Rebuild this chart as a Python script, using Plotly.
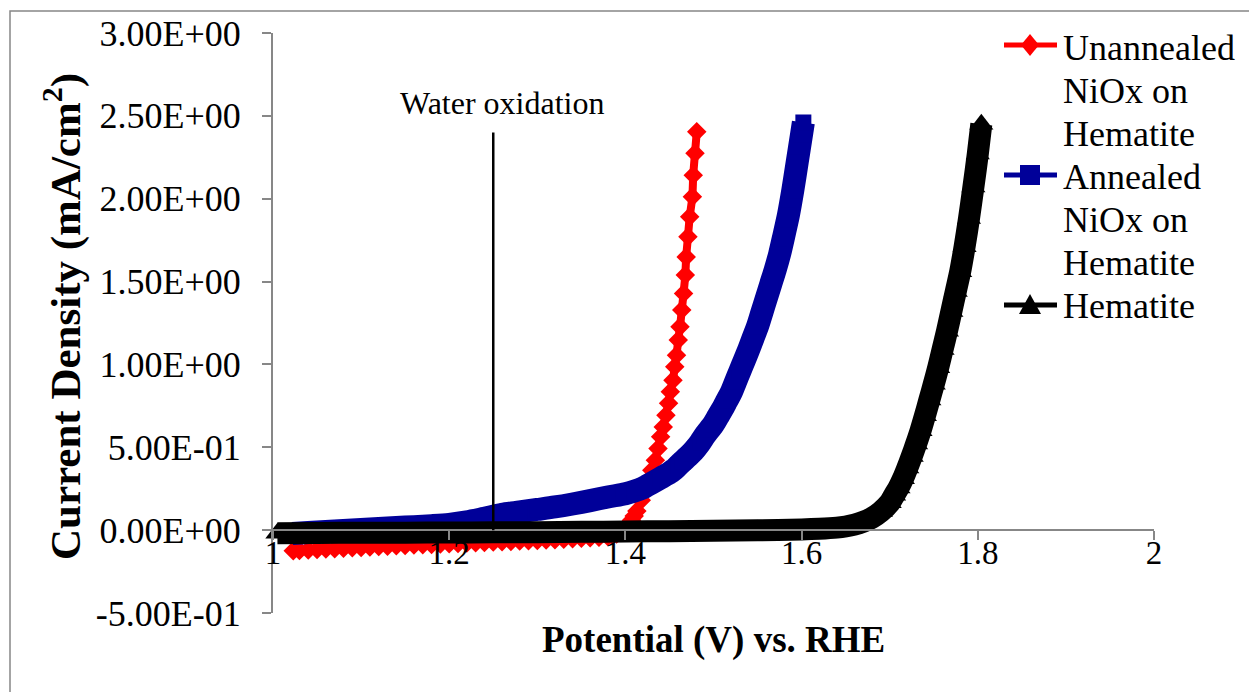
import plotly.graph_objects as go

# Linear sweep voltammetry: current density vs. potential
v_unannealed = [1.023, 1.03, 1.04, 1.05, 1.06, 1.07, 1.08, 1.09, 1.10, 1.11, 1.12, 1.13, 1.14,
                1.15, 1.16, 1.17, 1.18, 1.19, 1.20, 1.21, 1.22, 1.23, 1.24, 1.25, 1.26, 1.27,
                1.28, 1.29, 1.30, 1.31, 1.32, 1.33, 1.34, 1.35, 1.36, 1.37, 1.38, 1.385, 1.39,
                1.395, 1.399, 1.403, 1.407, 1.410, 1.413, 1.418, 1.422, 1.426, 1.430, 1.434,
                1.437, 1.440, 1.443, 1.446, 1.449, 1.451, 1.454, 1.456, 1.458, 1.460, 1.462,
                1.464, 1.466, 1.468, 1.469, 1.471, 1.473, 1.476, 1.477, 1.479, 1.481]
j_unannealed = [-0.125, -0.123, -0.120, -0.117, -0.114, -0.112, -0.109, -0.106, -0.104, -0.101,
                -0.099, -0.097, -0.094, -0.092, -0.090, -0.088, -0.086, -0.084, -0.082, -0.080,
                -0.078, -0.076, -0.074, -0.072, -0.070, -0.068, -0.066, -0.064, -0.062, -0.060,
                -0.058, -0.055, -0.052, -0.049, -0.046, -0.043, -0.039, -0.033, -0.024, -0.010,
                0.010, 0.035, 0.060, 0.085, 0.115, 0.181, 0.241, 0.302, 0.362, 0.422, 0.493,
                0.563, 0.623, 0.694, 0.765, 0.835, 0.905, 0.986, 1.056, 1.147, 1.227, 1.328,
                1.428, 1.539, 1.649, 1.770, 1.891, 2.012, 2.142, 2.275, 2.404]

v_annealed = [1.022, 1.04, 1.06, 1.08, 1.10, 1.12, 1.14, 1.16, 1.18, 1.20, 1.22, 1.24, 1.26,
              1.28, 1.30, 1.32, 1.34, 1.36, 1.38, 1.40, 1.41, 1.42, 1.43, 1.44, 1.450, 1.455,
              1.460, 1.465, 1.470, 1.475, 1.480, 1.485, 1.490, 1.495, 1.500, 1.505, 1.510,
              1.515, 1.520, 1.525, 1.530, 1.535, 1.540, 1.545, 1.550, 1.555, 1.560, 1.565,
              1.570, 1.575, 1.580, 1.585, 1.590, 1.595, 1.600, 1.602]
j_annealed = [-0.020, -0.014, -0.008, -0.002, 0.004, 0.010, 0.016, 0.021, 0.027, 0.035, 0.050,
              0.072, 0.095, 0.110, 0.125, 0.140, 0.158, 0.178, 0.200, 0.220, 0.235, 0.255,
              0.285, 0.315, 0.345, 0.365, 0.390, 0.415, 0.440, 0.465, 0.495, 0.530, 0.570,
              0.605, 0.640, 0.685, 0.730, 0.780, 0.830, 0.895, 0.960, 1.025, 1.090, 1.160,
              1.230, 1.315, 1.400, 1.485, 1.570, 1.665, 1.780, 1.900, 2.050, 2.220, 2.390,
              2.460]

v_hematite = [1.005, 1.05, 1.10, 1.15, 1.20, 1.25, 1.30, 1.35, 1.40, 1.45, 1.50, 1.55, 1.60,
              1.62, 1.64, 1.65, 1.66, 1.67, 1.68, 1.69, 1.70, 1.705, 1.71, 1.715, 1.72, 1.725,
              1.73, 1.735, 1.74, 1.745, 1.75, 1.755, 1.76, 1.765, 1.77, 1.775, 1.78, 1.785,
              1.79, 1.795, 1.80, 1.804]
j_hematite = [-0.018, -0.017, -0.016, -0.015, -0.014, -0.013, -0.012, -0.010, -0.008, -0.006,
              -0.004, -0.001, 0.004, 0.008, 0.015, 0.022, 0.033, 0.050, 0.075, 0.112, 0.165,
              0.210, 0.255, 0.310, 0.375, 0.445, 0.520, 0.600, 0.690, 0.785, 0.880, 0.980,
              1.090, 1.200, 1.320, 1.440, 1.560, 1.710, 1.880, 2.070, 2.270, 2.450]

series_names = ["Unannealed<br>NiOx on<br>Hematite", "Annealed<br>NiOx on<br>Hematite", "Hematite"]
series_colors = ["#FF0000", "#000099", "#000000"]

x_ticks = [1.0, 1.2, 1.4, 1.6, 1.8, 2.0]
x_tick_text = ["1", "1.2", "1.4", "1.6", "1.8", "2"]
y_ticks = [-0.5, 0.0, 0.5, 1.0, 1.5, 2.0, 2.5, 3.0]
y_tick_text = ["-5.00E-01", "0.00E+00", "5.00E-01", "1.00E+00", "1.50E+00", "2.00E+00",
               "2.50E+00", "3.00E+00"]

water_ox_v = 1.25
water_ox_top = 2.40

SERIF = "Liberation Serif"
AXIS_GREY = "#878787"
W, H = 1249, 692
ML, MR, MT, MB = 273, 95, 33, 79
PW, PH = W - ML - MR, H - MT - MB


def px_x(px):
    return (px - ML) / PW


def px_y(py):
    return (H - MB - py) / PH


def px_path(points):
    return "M " + " L ".join(f"{px_x(a):.5f},{px_y(b):.5f}" for a, b in points) + " Z"


fig = go.Figure()

# hematite drawn last so it sits on top
fig.add_trace(go.Scatter(
    x=v_unannealed, y=j_unannealed, mode="lines+markers", name="Unannealed NiOx on Hematite",
    showlegend=False, line=dict(color=series_colors[0], width=8, shape="spline", smoothing=0.6),
    marker=dict(symbol="diamond", size=15, color=series_colors[0]), cliponaxis=False))
fig.add_trace(go.Scatter(
    x=v_annealed, y=j_annealed, mode="lines+markers", name="Annealed NiOx on Hematite",
    showlegend=False, line=dict(color=series_colors[1], width=23, shape="spline", smoothing=0.8),
    marker=dict(symbol="square", size=16, color=series_colors[1]), cliponaxis=False))
fig.add_trace(go.Scatter(
    x=v_hematite, y=j_hematite, mode="lines+markers", name="Hematite",
    showlegend=False, line=dict(color=series_colors[2], width=22, shape="spline", smoothing=0.8),
    marker=dict(symbol="triangle-up", size=21, color=series_colors[2]), cliponaxis=False))

# legend: line sample with marker, then label lines
legend_rows = [45, 175, 305]
text_rows = [[48, 91, 134], [177, 220, 263], [306]]
for (row, color, label, lines) in zip(legend_rows, series_colors, series_names, text_rows):
    fig.add_shape(type="line", xref="paper", yref="paper",
                  x0=px_x(1004), x1=px_x(1057), y0=px_y(row), y1=px_y(row),
                  line=dict(color=color, width=5))
    for yy, part in zip(lines, label.split("<br>")):
        fig.add_annotation(x=px_x(1061), y=px_y(yy), xref="paper", yref="paper",
                           text=part, showarrow=False, xanchor="left", yanchor="middle",
                           font=dict(family=SERIF, size=36, color="black"))
cx = 1030
fig.add_shape(type="path", xref="paper", yref="paper", line=dict(width=0),
              fillcolor=series_colors[0],
              path=px_path([(cx, 34), (cx + 9, 45), (cx, 56), (cx - 9, 45)]))
fig.add_shape(type="path", xref="paper", yref="paper", line=dict(width=0),
              fillcolor=series_colors[1],
              path=px_path([(cx - 10, 165), (cx + 10, 165), (cx + 10, 185), (cx - 10, 185)]))
fig.add_shape(type="path", xref="paper", yref="paper", line=dict(width=0),
              fillcolor=series_colors[2],
              path=px_path([(cx, 294), (cx + 11, 314), (cx - 11, 314)]))

# water oxidation marker line
fig.add_shape(type="line", xref="x", yref="y", x0=water_ox_v, x1=water_ox_v,
              y0=0.0, y1=water_ox_top, line=dict(color="black", width=2.5), layer="above")
fig.add_annotation(x=water_ox_v, y=2.58, xref="x", yref="y", text="Water oxidation",
                   showarrow=False, font=dict(family=SERIF, size=32, color="black"),
                   xshift=9)

# outer chart frame
fig.add_shape(type="rect", xref="paper", yref="paper",
              x0=px_x(10), x1=px_x(1300), y0=px_y(760), y1=px_y(11),
              line=dict(color=AXIS_GREY, width=1.5), fillcolor="rgba(0,0,0,0)", layer="below")

# axis titles
fig.add_annotation(x=px_x(62), y=px_y(317), xref="paper", yref="paper",
                   xanchor="center", yanchor="middle",
                   text="<b>Current Density (mA/cm<sup>2</sup>)</b>", textangle=-90,
                   showarrow=False, font=dict(family=SERIF, size=43, color="black"))
fig.add_annotation(x=px_x(713), y=px_y(640), xref="paper", yref="paper",
                   xanchor="center", yanchor="middle",
                   text="<b>Potential (V) vs. RHE</b>",
                   showarrow=False, font=dict(family=SERIF, size=37, color="black"))

fig.update_layout(
    width=W, height=H,
    margin=dict(l=ML, r=MR, t=MT, b=MB, pad=0),
    paper_bgcolor="white", plot_bgcolor="rgba(0,0,0,0)",
    font=dict(family=SERIF, color="black"),
    showlegend=False,
    xaxis=dict(range=[1, 2], tickvals=x_ticks, ticktext=x_tick_text,
               showgrid=False, zeroline=False, showline=True, linecolor=AXIS_GREY,
               linewidth=2, ticks="outside", ticklen=9, tickwidth=2, tickcolor=AXIS_GREY,
               anchor="free", position=0.5 / 3.5, ticklabelstandoff=-16,
               tickfont=dict(family=SERIF, size=33, color="black")),
    yaxis=dict(range=[-0.5, 3], tickvals=y_ticks, ticktext=y_tick_text,
               showgrid=False, zeroline=False, showline=True, linecolor=AXIS_GREY,
               linewidth=2, ticks="outside", ticklen=9, tickwidth=2, tickcolor=AXIS_GREY,
               ticklabelstandoff=14,
               tickfont=dict(family=SERIF, size=36, color="black")),
)

fig.write_html("out.html")
